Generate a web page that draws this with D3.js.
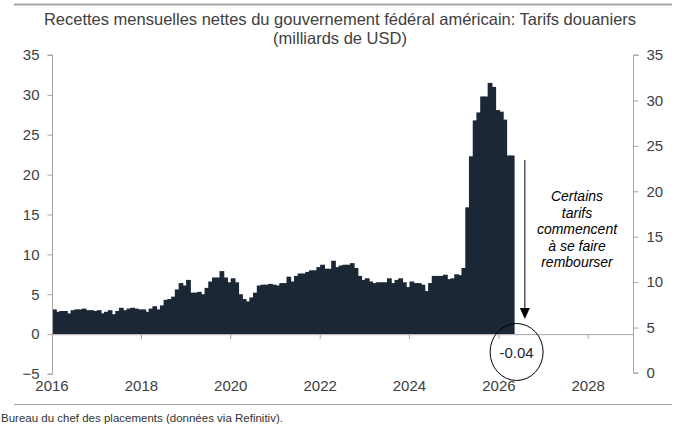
<!DOCTYPE html>
<html>
<head>
<meta charset="utf-8">
<script src="https://cdn.jsdelivr.net/npm/d3@7"></script>
<style>
  body { margin: 0; background: #fff; }
  svg { display: block; font-family: "Liberation Sans", Arial, sans-serif; }
</style>
</head>
<body>
<div class="canvas"></div>
<script>
// monthly net customs duties, billions of USD, from Jan 2016
const startYear = 2016;
const values = [
  3.1, 2.8, 2.9, 2.9, 2.6, 3.0, 3.1, 3.1, 3.2, 3.0, 3.0, 2.9,   // 2016
  3.0, 2.6, 2.8, 3.0, 2.5, 2.9, 3.3, 3.0, 3.2, 3.3, 3.2, 3.1,   // 2017
  3.1, 2.8, 3.2, 3.5, 3.1, 3.6, 4.3, 4.4, 4.7, 5.6, 6.4, 6.1,   // 2018
  6.8, 5.2, 5.2, 5.3, 5.0, 5.8, 6.6, 7.1, 7.1, 7.9, 7.1, 6.5,   // 2019
  7.0, 6.5, 5.0, 4.4, 4.1, 4.6, 5.2, 6.1, 6.2, 6.2, 6.3, 6.2,   // 2020
  6.1, 6.4, 6.4, 7.2, 6.6, 7.3, 7.6, 7.6, 7.8, 8.0, 8.0, 8.4,   // 2021
  8.7, 8.2, 8.2, 9.2, 8.4, 8.6, 8.7, 8.7, 8.9, 8.3, 7.3, 6.8,   // 2022
  7.0, 6.6, 6.4, 6.5, 6.5, 6.5, 7.0, 6.4, 6.8, 7.0, 6.5, 5.9,   // 2023
  6.6, 6.4, 6.4, 6.2, 5.4, 6.4, 7.3, 7.3, 7.3, 7.45, 6.9, 7.0,  // 2024
  7.5, 7.4, 8.3, 15.9, 22.3, 26.8, 27.8, 29.8, 29.8, 31.5, 31.0, 28.1, // 2025
  27.9, 26.9, 22.4, 22.4, -0.04                                  // 2026
];
const leftTicks = [-5, 0, 5, 10, 15, 20, 25, 30, 35];
const rightTicks = [0, 5, 10, 15, 20, 25, 30, 35];
const yearTicks = [2016, 2018, 2020, 2022, 2024, 2026, 2028];
const titleLines = ['Recettes mensuelles nettes du gouvernement fédéral américain: Tarifs douaniers', '(milliards de USD)'];
const noteLines = ['Certains', 'tarifs', 'commencent', 'à se faire', 'rembourser'];
const lastLabel = '-0.04';
const source = 'Bureau du chef des placements (données via Refinitiv).';

const data = values.map((v, i) => ({ date: new Date(startYear, i, 1), value: v }));

const W = 676, H = 425;
const svg = d3.select('.canvas').append('svg').attr('width', W).attr('height', H);

const textCol = '#404040', axisCol = '#a6a6a6', barCol = '#1b2735';

// scales
const x = d3.scaleTime().domain([new Date(2016, 0, 1), new Date(2029, 0, 1)]).range([52, 633]);
const yL = d3.scaleLinear().domain([-5, 35]).range([374, 55]);
const yR = d3.scaleLinear().domain([0, 35]).range([373, 55]);

// frame rules
svg.append('line').attr('x1', 14).attr('x2', 672).attr('y1', 4.5).attr('y2', 4.5)
  .attr('stroke', '#a6a6a6').attr('stroke-width', 2);
svg.append('line').attr('x1', 14).attr('x2', 672).attr('y1', 404.5).attr('y2', 404.5)
  .attr('stroke', '#a6a6a6').attr('stroke-width', 1);

// title
svg.selectAll('.title').data(titleLines).enter().append('text')
  .attr('class', 'title')
  .attr('x', 340).attr('y', (d, i) => 25 + i * 18.5)
  .attr('text-anchor', 'middle').attr('font-size', 16.5).attr('fill', textCol)
  .text(d => d);

// bars (slight overlap so the months read as one filled step area)
svg.append('g').selectAll('rect').data(data).enter().append('rect')
  .attr('x', d => x(d.date))
  .attr('width', d => x(d3.timeMonth.offset(d.date, 1)) - x(d.date) + 1)
  .attr('y', d => yL(Math.max(0, d.value)))
  .attr('height', d => Math.max(0.6, Math.abs(yL(d.value) - yL(0))))
  .attr('fill', barCol);

// zero line
svg.append('line').attr('x1', x(new Date(2016, 0, 1))).attr('x2', 633)
  .attr('y1', yL(0) + 0.5).attr('y2', yL(0) + 0.5).attr('stroke', axisCol);
svg.append('line').attr('x1', 52).attr('x2', x(d3.timeMonth.offset(data[data.length - 1].date, 1)))
  .attr('y1', yL(0) + 0.5).attr('y2', yL(0) + 0.5)
  .attr('stroke', '#c8c8c8').attr('stroke-dasharray', '1,1');

// x ticks on zero line, labels at bottom
const xg = svg.append('g');
xg.selectAll('line').data(yearTicks.slice(1)).enter().append('line')
  .attr('x1', d => x(new Date(d, 0, 1))).attr('x2', d => x(new Date(d, 0, 1)))
  .attr('y1', yL(0)).attr('y2', yL(0) + 5).attr('stroke', axisCol);
xg.selectAll('text').data(yearTicks).enter().append('text')
  .attr('x', d => x(new Date(d, 0, 1))).attr('y', 391)
  .attr('text-anchor', 'middle').attr('font-size', 15).attr('fill', textCol)
  .text(d => d);

// left axis
const leftAxis = d3.axisLeft(yL).tickValues(leftTicks).tickSize(5).tickPadding(8);
const lg = svg.append('g').attr('transform', 'translate(52.5,0)').call(leftAxis);
// right axis
const rightAxis = d3.axisRight(yR).tickValues(rightTicks).tickSize(5).tickPadding(8);
const rg = svg.append('g').attr('transform', 'translate(633.5,0)').call(rightAxis);

[lg, rg].forEach(g => {
  g.select('.domain').attr('stroke', axisCol).attr('d', g === lg
    ? `M-5,${yL(35)}H0V${yL(-5)}H-5` : `M5,${yR(35)}H0V${yR(0)}H5`);
  g.selectAll('.tick line').attr('stroke', axisCol);
  g.selectAll('.tick text').attr('font-size', 15).attr('fill', textCol)
    .attr('font-family', '"Liberation Sans", Arial, sans-serif');
});

// annotation arrow
const lastDate = data[data.length - 1].date;
const arrowX = x(d3.timeMonth.offset(lastDate, 3));
svg.append('line').attr('x1', arrowX).attr('x2', arrowX)
  .attr('y1', 160).attr('y2', 310).attr('stroke', '#000').attr('stroke-width', 1);
svg.append('path')
  .attr('d', `M${arrowX - 5},308 L${arrowX + 5},308 L${arrowX},319 Z`).attr('fill', '#000');

svg.selectAll('.note').data(noteLines).enter().append('text')
  .attr('class', 'note')
  .attr('x', 577).attr('y', (d, i) => 201 + i * 16.5)
  .attr('text-anchor', 'middle').attr('font-size', 14).attr('font-style', 'italic')
  .attr('fill', '#000').text(d => d);

// circled last value
const cx = x(lastDate) + 3, cy = 352;
svg.append('ellipse').attr('cx', cx).attr('cy', cy).attr('rx', 26.5).attr('ry', 28.5)
  .attr('fill', 'none').attr('stroke', '#000').attr('stroke-width', 1);
svg.append('text').attr('x', cx).attr('y', cy + 5.5).attr('text-anchor', 'middle')
  .attr('font-size', 15).attr('fill', barCol).text(lastLabel);

// source
svg.append('text').attr('x', 1).attr('y', 422).attr('font-size', 11.5).attr('fill', '#333')
  .text(source);
</script>
</body>
</html>
